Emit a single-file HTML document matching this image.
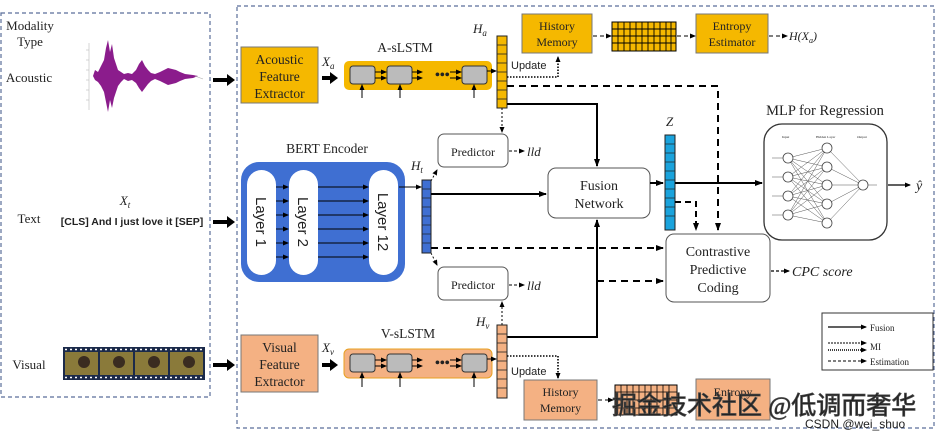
<!DOCTYPE html>
<html><head><meta charset="utf-8"><style>
html,body{margin:0;padding:0;background:#fff;}
svg{display:block;}
text{font-family:"Liberation Serif",serif;fill:#222;}
.s{font-family:"Liberation Sans",sans-serif;}
</style></head><body>
<svg width="941" height="432" viewBox="0 0 941 432" xmlns="http://www.w3.org/2000/svg">
<defs>
<marker id="ah" markerWidth="8" markerHeight="8" refX="7" refY="4" orient="auto" markerUnits="userSpaceOnUse"><path d="M0,1 L8,4 L0,7z" fill="#000"/></marker>
<marker id="as" markerWidth="6" markerHeight="6" refX="5" refY="3" orient="auto" markerUnits="userSpaceOnUse"><path d="M0,0.5 L6,3 L0,5.5z" fill="#000"/></marker>
</defs>
<!-- panels -->
<rect x="1" y="13" width="209" height="384" fill="none" stroke="#5a6e9a" stroke-width="1.2" stroke-dasharray="4,3"/>
<rect x="237" y="6" width="697" height="422" fill="none" stroke="#5a6e9a" stroke-width="1.2" stroke-dasharray="4,3"/>

<!-- left labels -->
<text x="30" y="30" font-size="13" text-anchor="middle">Modality</text>
<text x="30" y="46" font-size="13" text-anchor="middle">Type</text>
<text x="29" y="82" font-size="13" text-anchor="middle">Acoustic</text>
<text x="29" y="223" font-size="13" text-anchor="middle">Text</text>
<text x="29" y="369" font-size="13" text-anchor="middle">Visual</text>
<!-- waveform -->
<g stroke="#bbb" stroke-width="0.6"><line x1="89" y1="43" x2="89" y2="110"/><line x1="86" y1="50" x2="89" y2="50"/><line x1="86" y1="60" x2="89" y2="60"/><line x1="86" y1="70" x2="89" y2="70"/><line x1="86" y1="80" x2="89" y2="80"/><line x1="86" y1="90" x2="89" y2="90"/><line x1="86" y1="100" x2="89" y2="100"/></g>
<path d="M93,76 L95,70 L98,72 L101,66 L104,60 L106,48 L108,40 L110,52 L112,44 L114,58 L116,64 L118,70 L121,72 L124,74 L128,73 L132,74 L136,70 L139,64 L142,60 L145,66 L148,70 L151,73 L155,74 L160,72 L164,70 L168,68 L172,69 L176,70 L180,72 L185,74 L193,75 L198,76 L193,78 L185,79 L180,81 L176,83 L172,84 L168,85 L164,83 L160,81 L155,79 L151,81 L148,84 L145,88 L142,92 L139,88 L136,83 L132,80 L128,81 L124,79 L121,82 L118,86 L116,92 L114,98 L112,108 L110,100 L108,112 L106,102 L104,92 L101,86 L98,82 L95,80 Z" fill="#8b1c8c"/>
<line x1="195" y1="76" x2="203" y2="79" stroke="#aaa" stroke-width="0.6"/>
<text x="125" y="205" font-size="13" font-style="italic" text-anchor="middle">X<tspan font-size="9" dy="3">t</tspan></text>
<text x="132" y="225" font-size="10.5" font-weight="bold" class="s" text-anchor="middle">[CLS] And I just love it [SEP]</text>
<!-- film strip -->
<rect x="63" y="347" width="142" height="33" fill="#1b2a4a"/>
<g fill="#8a7a3a"><rect x="65" y="352" width="33" height="23"/><rect x="100" y="352" width="33" height="23"/><rect x="135" y="352" width="33" height="23"/><rect x="170" y="352" width="33" height="23"/></g>
<g fill="#3a2c20"><circle cx="84" cy="362" r="6"/><circle cx="119" cy="362" r="6"/><circle cx="154" cy="362" r="6"/><circle cx="189" cy="362" r="6"/></g>
<line x1="65" y1="349.5" x2="203" y2="349.5" stroke="#fff" stroke-width="1.5" stroke-dasharray="2,3"/>
<line x1="65" y1="377.5" x2="203" y2="377.5" stroke="#fff" stroke-width="1.5" stroke-dasharray="2,3"/>
<!-- thick input arrows -->
<g fill="#000"><path d="M213,78 h14 v-4 l8,6 l-8,6 v-4 h-14z"/><path d="M213,220 h14 v-4 l8,6 l-8,6 v-4 h-14z"/><path d="M213,363 h14 v-4 l8,6 l-8,6 v-4 h-14z"/></g>

<!-- Acoustic branch -->
<rect x="241" y="47" width="77" height="56" fill="#f5b800" stroke="#777"/>
<text x="279.5" y="64" font-size="13.5" text-anchor="middle">Acoustic</text>
<text x="279.5" y="81" font-size="13.5" text-anchor="middle">Feature</text>
<text x="279.5" y="98" font-size="13.5" text-anchor="middle">Extractor</text>
<text x="322" y="66" font-size="13" font-style="italic">X<tspan font-size="9" dy="3">a</tspan></text>
<path d="M322,76 h8 v-4 l8,6 l-8,6 v-4 h-8z" fill="#000"/>
<text x="405" y="52" font-size="13.5" text-anchor="middle">A-sLSTM</text>
<rect x="344" y="61" width="148" height="29" rx="5" fill="#f5b800"/>
<g fill="#bbb" stroke="#333" stroke-width="1"><rect x="350" y="66" width="25" height="18" rx="3"/><rect x="387" y="66" width="25" height="18" rx="3"/><rect x="462" y="66" width="25" height="18" rx="3"/></g>
<g stroke="#000" stroke-width="1"><line x1="375" y1="72" x2="386" y2="72" marker-end="url(#as)"/><line x1="375" y1="78" x2="386" y2="78" marker-end="url(#as)"/><line x1="450" y1="72" x2="461" y2="72" marker-end="url(#as)"/><line x1="450" y1="78" x2="461" y2="78" marker-end="url(#as)"/><line x1="412" y1="72" x2="422" y2="72" marker-end="url(#as)"/><line x1="412" y1="78" x2="422" y2="78" marker-end="url(#as)"/><line x1="487" y1="71" x2="496" y2="71" marker-end="url(#as)"/>
<line x1="362" y1="98" x2="362" y2="85" marker-end="url(#as)"/><line x1="400" y1="98" x2="400" y2="85" marker-end="url(#as)"/><line x1="474" y1="98" x2="474" y2="85" marker-end="url(#as)"/></g>
<text x="435" y="79" font-size="14" font-weight="bold">•••</text>
<text x="473" y="33" font-size="13" font-style="italic">H<tspan font-size="9" dy="3">a</tspan></text>
<rect x="497" y="36" width="10" height="72" fill="#f5b800" stroke="#222"/>
<g stroke="#222" stroke-width="0.8"><line x1="497" y1="45" x2="507" y2="45"/><line x1="497" y1="54" x2="507" y2="54"/><line x1="497" y1="63" x2="507" y2="63"/><line x1="497" y1="72" x2="507" y2="72"/><line x1="497" y1="81" x2="507" y2="81"/><line x1="497" y1="90" x2="507" y2="90"/><line x1="497" y1="99" x2="507" y2="99"/></g>
<rect x="522" y="14" width="70" height="39" fill="#f5b800" stroke="#777"/>
<text x="557" y="30" font-size="12" text-anchor="middle">History</text>
<text x="557" y="46" font-size="12" text-anchor="middle">Memory</text>
<text x="511" y="69" font-size="11" class="s">Update</text>
<path d="M507,77 H558 V57" fill="none" stroke="#000" stroke-width="1.6" stroke-dasharray="1.5,1.5" marker-end="url(#as)"/>
<rect x="612" y="22" width="64" height="29" fill="#f5b800" stroke="#000"/>
<g stroke="#000" stroke-width="0.9">
<line x1="612" y1="29" x2="676" y2="29"/><line x1="612" y1="36" x2="676" y2="36"/><line x1="612" y1="43" x2="676" y2="43"/>
<line x1="618" y1="22" x2="618" y2="51"/><line x1="624" y1="22" x2="624" y2="51"/><line x1="630" y1="22" x2="630" y2="51"/><line x1="636" y1="22" x2="636" y2="51"/><line x1="642" y1="22" x2="642" y2="51"/><line x1="648" y1="22" x2="648" y2="51"/><line x1="654" y1="22" x2="654" y2="51"/><line x1="660" y1="22" x2="660" y2="51"/><line x1="666" y1="22" x2="666" y2="51"/><line x1="671" y1="22" x2="671" y2="51"/></g>
<g stroke="#000" stroke-width="1" stroke-dasharray="4,3"><line x1="593" y1="36" x2="611" y2="36" marker-end="url(#as)"/><line x1="677" y1="36" x2="695" y2="36" marker-end="url(#as)"/><line x1="769" y1="36" x2="787" y2="36" marker-end="url(#as)"/></g>
<rect x="696" y="14" width="72" height="39" fill="#f5b800" stroke="#777"/>
<text x="732" y="30" font-size="12" text-anchor="middle">Entropy</text>
<text x="732" y="46" font-size="12" text-anchor="middle">Estimator</text>
<text x="789" y="40" font-size="12" font-style="italic">H(X<tspan font-size="8" dy="3">a</tspan><tspan dy="-3">)</tspan></text>

<!-- main connectors -->
<path d="M507,86 H718 V230" fill="none" stroke="#000" stroke-width="2" stroke-dasharray="7,5" marker-end="url(#ah)"/>
<path d="M507,104 H597 V166" fill="none" stroke="#000" stroke-width="2" marker-end="url(#ah)"/>
<line x1="502" y1="108" x2="502" y2="132" stroke="#000" stroke-dasharray="2,2" marker-end="url(#as)"/>

<!-- predictors -->
<rect x="438" y="134" width="70" height="33" rx="6" fill="#fff" stroke="#555"/>
<text x="473" y="156" font-size="12" text-anchor="middle">Predictor</text>
<line x1="509" y1="151" x2="524" y2="151" stroke="#000" stroke-dasharray="3,2" marker-end="url(#as)"/>
<text x="527" y="156" font-size="13" font-style="italic">lld</text>
<rect x="438" y="267" width="70" height="33" rx="6" fill="#fff" stroke="#555"/>
<text x="473" y="289" font-size="12" text-anchor="middle">Predictor</text>
<line x1="509" y1="285" x2="524" y2="285" stroke="#000" stroke-dasharray="3,2" marker-end="url(#as)"/>
<text x="527" y="290" font-size="13" font-style="italic">lld</text>

<!-- BERT -->
<text x="327" y="153" font-size="13.5" text-anchor="middle">BERT Encoder</text>
<rect x="241" y="162" width="164" height="120" rx="18" fill="#3f6fd2"/>
<g fill="#fff"><rect x="247" y="170" width="29" height="105" rx="14.5"/><rect x="289" y="170" width="29" height="105" rx="14.5"/><rect x="369" y="170" width="29" height="105" rx="14.5"/></g>
<text transform="translate(256,222) rotate(90)" font-size="15" class="s" text-anchor="middle">Layer 1</text>
<text transform="translate(298,222) rotate(90)" font-size="15" class="s" text-anchor="middle">Layer 2</text>
<text transform="translate(378,222) rotate(90)" font-size="15" class="s" text-anchor="middle">Layer 12</text>
<g stroke="#000" stroke-width="0.9">
<line x1="276" y1="187" x2="288" y2="187" marker-end="url(#as)"/><line x1="276" y1="201" x2="288" y2="201" marker-end="url(#as)"/><line x1="276" y1="215" x2="288" y2="215" marker-end="url(#as)"/><line x1="276" y1="229" x2="288" y2="229" marker-end="url(#as)"/><line x1="276" y1="243" x2="288" y2="243" marker-end="url(#as)"/><line x1="276" y1="257" x2="288" y2="257" marker-end="url(#as)"/>
<line x1="318" y1="187" x2="368" y2="187" marker-end="url(#as)"/><line x1="318" y1="201" x2="368" y2="201" marker-end="url(#as)"/><line x1="318" y1="215" x2="368" y2="215" marker-end="url(#as)"/><line x1="318" y1="229" x2="368" y2="229" marker-end="url(#as)"/><line x1="318" y1="243" x2="368" y2="243" marker-end="url(#as)"/><line x1="318" y1="257" x2="368" y2="257" marker-end="url(#as)"/>
<line x1="399" y1="187" x2="421" y2="187" marker-end="url(#as)"/>
<line x1="431" y1="181" x2="437" y2="170" stroke-dasharray="2,2" marker-end="url(#as)"/>
<line x1="431" y1="253" x2="437" y2="265" stroke-dasharray="2,2" marker-end="url(#as)"/></g>
<text x="411" y="170" font-size="13" font-style="italic">H<tspan font-size="9" dy="3">t</tspan></text>
<rect x="422" y="180" width="9" height="73" fill="#3f6fd2" stroke="#222"/>
<g stroke="#222" stroke-width="0.7"><line x1="422" y1="189" x2="431" y2="189"/><line x1="422" y1="198" x2="431" y2="198"/><line x1="422" y1="207" x2="431" y2="207"/><line x1="422" y1="216" x2="431" y2="216"/><line x1="422" y1="225" x2="431" y2="225"/><line x1="422" y1="234" x2="431" y2="234"/><line x1="422" y1="243" x2="431" y2="243"/></g>
<line x1="431" y1="194" x2="546" y2="194" stroke="#000" stroke-width="2" marker-end="url(#ah)"/>
<line x1="431" y1="248" x2="663" y2="248" stroke="#000" stroke-width="2" stroke-dasharray="7,5" marker-end="url(#ah)"/>
<line x1="597" y1="281" x2="663" y2="281" stroke="#000" stroke-width="2" stroke-dasharray="7,5" marker-end="url(#ah)"/>

<!-- Fusion -->
<rect x="548" y="168" width="102" height="50" rx="8" fill="#fff" stroke="#555"/>
<text x="599" y="190" font-size="14" text-anchor="middle">Fusion</text>
<text x="599" y="208" font-size="14" text-anchor="middle">Network</text>
<line x1="650" y1="183" x2="663" y2="183" stroke="#000" stroke-width="2" marker-end="url(#ah)"/>
<text x="666" y="126" font-size="13" font-style="italic">Z</text>
<rect x="665" y="135" width="10" height="95" fill="#1aa3dc" stroke="#222"/>
<g stroke="#222" stroke-width="0.7"><line x1="665" y1="144" x2="675" y2="144"/><line x1="665" y1="153" x2="675" y2="153"/><line x1="665" y1="162" x2="675" y2="162"/><line x1="665" y1="171" x2="675" y2="171"/><line x1="665" y1="180" x2="675" y2="180"/><line x1="665" y1="189" x2="675" y2="189"/><line x1="665" y1="198" x2="675" y2="198"/><line x1="665" y1="207" x2="675" y2="207"/><line x1="665" y1="216" x2="675" y2="216"/></g>
<line x1="675" y1="183" x2="762" y2="183" stroke="#000" stroke-width="2" marker-end="url(#ah)"/>
<path d="M675,202 H696 V230" fill="none" stroke="#000" stroke-width="2" stroke-dasharray="6,4" marker-end="url(#ah)"/>

<!-- MLP -->
<text x="825" y="115" font-size="14.5" text-anchor="middle">MLP for Regression</text>
<rect x="764" y="124" width="123" height="116" rx="18" fill="#fff" stroke="#333" stroke-width="1.3"/>
<g stroke="#555" stroke-width="0.5" fill="none">
<path d="M788,158 L827,148 M788,158 L827,167 M788,158 L827,185 M788,158 L827,204 M788,158 L827,223 M788,177 L827,148 M788,177 L827,167 M788,177 L827,185 M788,177 L827,204 M788,177 L827,223 M788,196 L827,148 M788,196 L827,167 M788,196 L827,185 M788,196 L827,204 M788,196 L827,223 M788,215 L827,148 M788,215 L827,167 M788,215 L827,185 M788,215 L827,204 M788,215 L827,223 M827,148 L863,185 M827,167 L863,185 M827,185 L863,185 M827,204 L863,185 M827,223 L863,185 M772,158 H788 M772,177 H788 M772,196 H788 M772,215 H788 M863,185 H877"/></g>
<g fill="#fff" stroke="#444" stroke-width="0.8"><circle cx="788" cy="158" r="5"/><circle cx="788" cy="177" r="5"/><circle cx="788" cy="196" r="5"/><circle cx="788" cy="215" r="5"/><circle cx="827" cy="148" r="5"/><circle cx="827" cy="167" r="5"/><circle cx="827" cy="185" r="5"/><circle cx="827" cy="204" r="5"/><circle cx="827" cy="223" r="5"/><circle cx="863" cy="185" r="5"/></g>
<g font-size="3.5" fill="#777"><text x="782" y="138">Input</text><text x="816" y="138">Hidden Layer</text><text x="857" y="138">Output</text></g>
<line x1="888" y1="185" x2="910" y2="185" stroke="#000" stroke-width="1.2" marker-end="url(#as)"/>
<text x="916" y="190" font-size="14" font-style="italic">ŷ</text>

<!-- CPC -->
<rect x="666" y="234" width="104" height="68" rx="8" fill="#fff" stroke="#555"/>
<text x="718" y="256" font-size="14" text-anchor="middle">Contrastive</text>
<text x="718" y="274" font-size="14" text-anchor="middle">Predictive</text>
<text x="718" y="292" font-size="14" text-anchor="middle">Coding</text>
<line x1="771" y1="271" x2="789" y2="271" stroke="#000" stroke-width="1.2" stroke-dasharray="3,2" marker-end="url(#as)"/>
<text x="792" y="276" font-size="14" font-style="italic">CPC score</text>

<!-- Visual branch -->
<path d="M507,337 H597 V220" fill="none" stroke="#000" stroke-width="2" marker-end="url(#ah)"/>
<line x1="502" y1="325" x2="502" y2="302" stroke="#000" stroke-dasharray="2,2" marker-end="url(#as)"/>
<rect x="241" y="335" width="77" height="57" fill="#f4b183" stroke="#777"/>
<text x="279.5" y="352" font-size="13.5" text-anchor="middle">Visual</text>
<text x="279.5" y="369" font-size="13.5" text-anchor="middle">Feature</text>
<text x="279.5" y="386" font-size="13.5" text-anchor="middle">Extractor</text>
<text x="322" y="352" font-size="13" font-style="italic">X<tspan font-size="9" dy="3">v</tspan></text>
<path d="M322,363 h8 v-4 l8,6 l-8,6 v-4 h-8z" fill="#000"/>
<text x="408" y="338" font-size="13.5" text-anchor="middle">V-sLSTM</text>
<rect x="344" y="349" width="148" height="29" rx="5" fill="#f4b183" stroke="#e8a020"/>
<g fill="#bbb" stroke="#333" stroke-width="1"><rect x="350" y="354" width="25" height="18" rx="3"/><rect x="387" y="354" width="25" height="18" rx="3"/><rect x="462" y="354" width="25" height="18" rx="3"/></g>
<g stroke="#000" stroke-width="1"><line x1="375" y1="360" x2="386" y2="360" marker-end="url(#as)"/><line x1="375" y1="366" x2="386" y2="366" marker-end="url(#as)"/><line x1="450" y1="360" x2="461" y2="360" marker-end="url(#as)"/><line x1="450" y1="366" x2="461" y2="366" marker-end="url(#as)"/><line x1="412" y1="360" x2="422" y2="360" marker-end="url(#as)"/><line x1="412" y1="366" x2="422" y2="366" marker-end="url(#as)"/><line x1="487" y1="359" x2="496" y2="359" marker-end="url(#as)"/>
<line x1="362" y1="387" x2="362" y2="373" marker-end="url(#as)"/><line x1="400" y1="387" x2="400" y2="373" marker-end="url(#as)"/><line x1="474" y1="387" x2="474" y2="373" marker-end="url(#as)"/></g>
<text x="435" y="367" font-size="14" font-weight="bold">•••</text>
<text x="476" y="326" font-size="13" font-style="italic">H<tspan font-size="9" dy="3">v</tspan></text>
<rect x="497" y="325" width="10" height="73" fill="#f4b183" stroke="#222"/>
<g stroke="#222" stroke-width="0.8"><line x1="497" y1="334" x2="507" y2="334"/><line x1="497" y1="343" x2="507" y2="343"/><line x1="497" y1="352" x2="507" y2="352"/><line x1="497" y1="361" x2="507" y2="361"/><line x1="497" y1="370" x2="507" y2="370"/><line x1="497" y1="379" x2="507" y2="379"/><line x1="497" y1="388" x2="507" y2="388"/></g>
<text x="511" y="375" font-size="11" class="s">Update</text>
<path d="M507,356 H558 V378" fill="none" stroke="#000" stroke-width="1.6" stroke-dasharray="1.5,1.5" marker-end="url(#as)"/>
<rect x="524" y="380" width="73" height="40" fill="#f4b183" stroke="#777"/>
<text x="560.5" y="396" font-size="12" text-anchor="middle">History</text>
<text x="560.5" y="412" font-size="12" text-anchor="middle">Memory</text>
<line x1="598" y1="400" x2="613" y2="400" stroke="#000" stroke-dasharray="4,3" marker-end="url(#as)"/>
<rect x="615" y="385" width="62" height="30" fill="#f4b183" stroke="#000"/>
<g stroke="#000" stroke-width="0.8"><line x1="615" y1="392" x2="677" y2="392"/><line x1="615" y1="400" x2="677" y2="400"/><line x1="615" y1="408" x2="677" y2="408"/><line x1="621" y1="385" x2="621" y2="415"/><line x1="627" y1="385" x2="627" y2="415"/><line x1="633" y1="385" x2="633" y2="415"/><line x1="639" y1="385" x2="639" y2="415"/><line x1="645" y1="385" x2="645" y2="415"/><line x1="651" y1="385" x2="651" y2="415"/><line x1="657" y1="385" x2="657" y2="415"/><line x1="663" y1="385" x2="663" y2="415"/><line x1="669" y1="385" x2="669" y2="415"/></g>
<rect x="696" y="379" width="74" height="41" fill="#f4b183" stroke="#777"/>
<text x="733" y="396" font-size="12" text-anchor="middle">Entropy</text>

<!-- legend -->
<rect x="822" y="313" width="111" height="57" fill="#fff" stroke="#333"/>
<line x1="828" y1="327" x2="866" y2="327" stroke="#000" stroke-width="1.3" marker-end="url(#as)"/>
<text x="870" y="331" font-size="9">Fusion</text>
<line x1="828" y1="343" x2="866" y2="343" stroke="#000" stroke-dasharray="2,1" marker-end="url(#as)"/>
<line x1="828" y1="350" x2="866" y2="350" stroke="#000" stroke-width="1.5" stroke-dasharray="1,1" marker-end="url(#as)"/>
<line x1="828" y1="361" x2="866" y2="361" stroke="#000" stroke-dasharray="3,2" marker-end="url(#as)"/>
<text x="870" y="350" font-size="9">MI</text>
<text x="870" y="365" font-size="9">Estimation</text>

<!-- watermark -->
<text x="612" y="414" font-size="25" fill="#fff" stroke="#444" stroke-width="0.8" font-family="'Liberation Sans','Noto Sans CJK SC',sans-serif">掘金技术社区 @低调而奢华</text>
<text x="805" y="428" font-size="12" fill="#c8c8c8" class="s">CSDN @wei_shuo</text>
</svg>
</body></html>
